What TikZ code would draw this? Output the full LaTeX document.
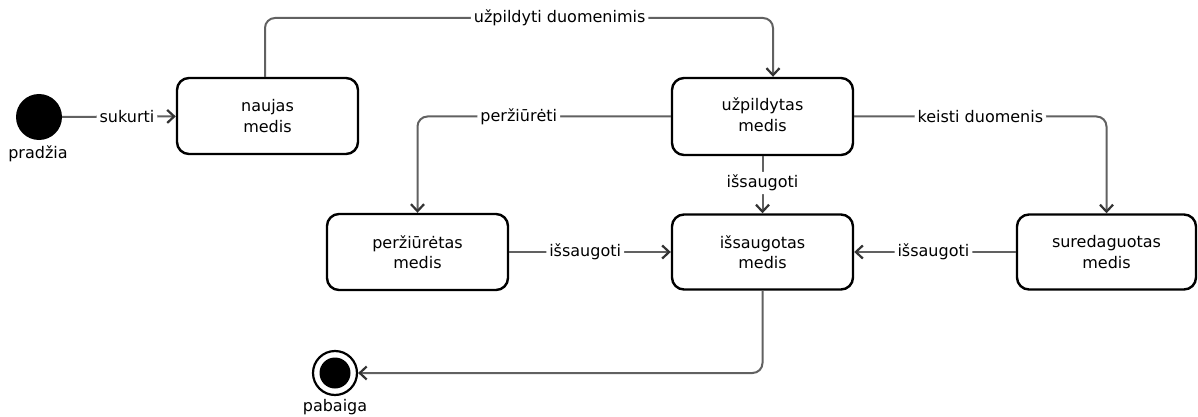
\documentclass[tikz,border=0pt]{standalone}
\usepackage{fontspec}
\setmainfont{DejaVu Sans}
\usetikzlibrary{arrows.meta}
\tikzset{
  state/.style={draw=black, line width=2.4pt, rounded corners=12pt, align=center,
    minimum width=181pt, minimum height=76pt, inner sep=0pt, font=\statefont},
  conn/.style={draw=black!62, line width=2pt, rounded corners=10pt,
    -{Straight Barb[length=7pt,width=13pt,line width=2.2pt,color=black!80]}},
  lab/.style={fill=white, inner sep=3pt, font=\statefont, text=black},
  caption/.style={font=\statefont, inner sep=0pt}
}
\newcommand{\statefont}{\fontsize{16}{20.5}\selectfont}
\begin{document}
\begin{tikzpicture}[x=1pt,y=-1pt]
\useasboundingbox (0,0) rectangle (1198,417);
% initial and final states
\node[circle, fill=black, minimum size=46pt, inner sep=0pt] (start) at (39,117) {};
\node[caption] (startlab) at (38,154) {pradžia};
\node[circle, draw=black, line width=2.2pt, minimum size=44pt, inner sep=0pt] (final) at (335,373) {};
\node[circle, fill=black, minimum size=31pt, inner sep=0pt] (finalin) at (335,373) {};
\node[caption] (finallab) at (335,407) {pabaiga};
% states
\node[state] (naujas) at (267.5,116) {naujas\\medis};
\node[state, minimum height=77pt] (uzp) at (762.5,116.5) {\raisebox{9pt}{\begin{tabular}{@{}c@{}}užpildytas\\[0.5pt]medis\end{tabular}}};
\node[state] (perz) at (417.5,252) {peržiūrėtas\\medis};
\node[state, minimum height=75pt] (issaug) at (762.5,252) {išsaugotas\\medis};
\node[state, minimum width=179pt, minimum height=75pt] (sured) at (1106.5,252) {suredaguotas\\medis};
% helper coordinates
\coordinate (topturn) at (773,18);
% connectors
\draw[conn] (start) -- node[lab, pos=0.57] {sukurti} (naujas);
\draw[conn] ([xshift=-2.5pt]naujas.north) |- node[lab, pos=0.79] {užpildyti duomenimis} (topturn) -- ([xshift=10.5pt]uzp.north);
\draw[conn] (uzp.west) -| node[lab, pos=0.3] {peržiūrėti} (perz.north);
\draw[conn] (uzp.east) -| node[lab, pos=0.25] {keisti duomenis} (sured.north);
\draw[conn] (uzp.south) -- node[lab, pos=0.47] {išsaugoti} (issaug.north);
\draw[conn] (perz.east) -- node[lab, pos=0.47] {išsaugoti} (issaug.west);
\draw[conn] (sured.west) -- node[lab, pos=0.51] {išsaugoti} (issaug.east);
\draw[conn] (issaug.south) |- (final.east);
\end{tikzpicture}
\end{document}
